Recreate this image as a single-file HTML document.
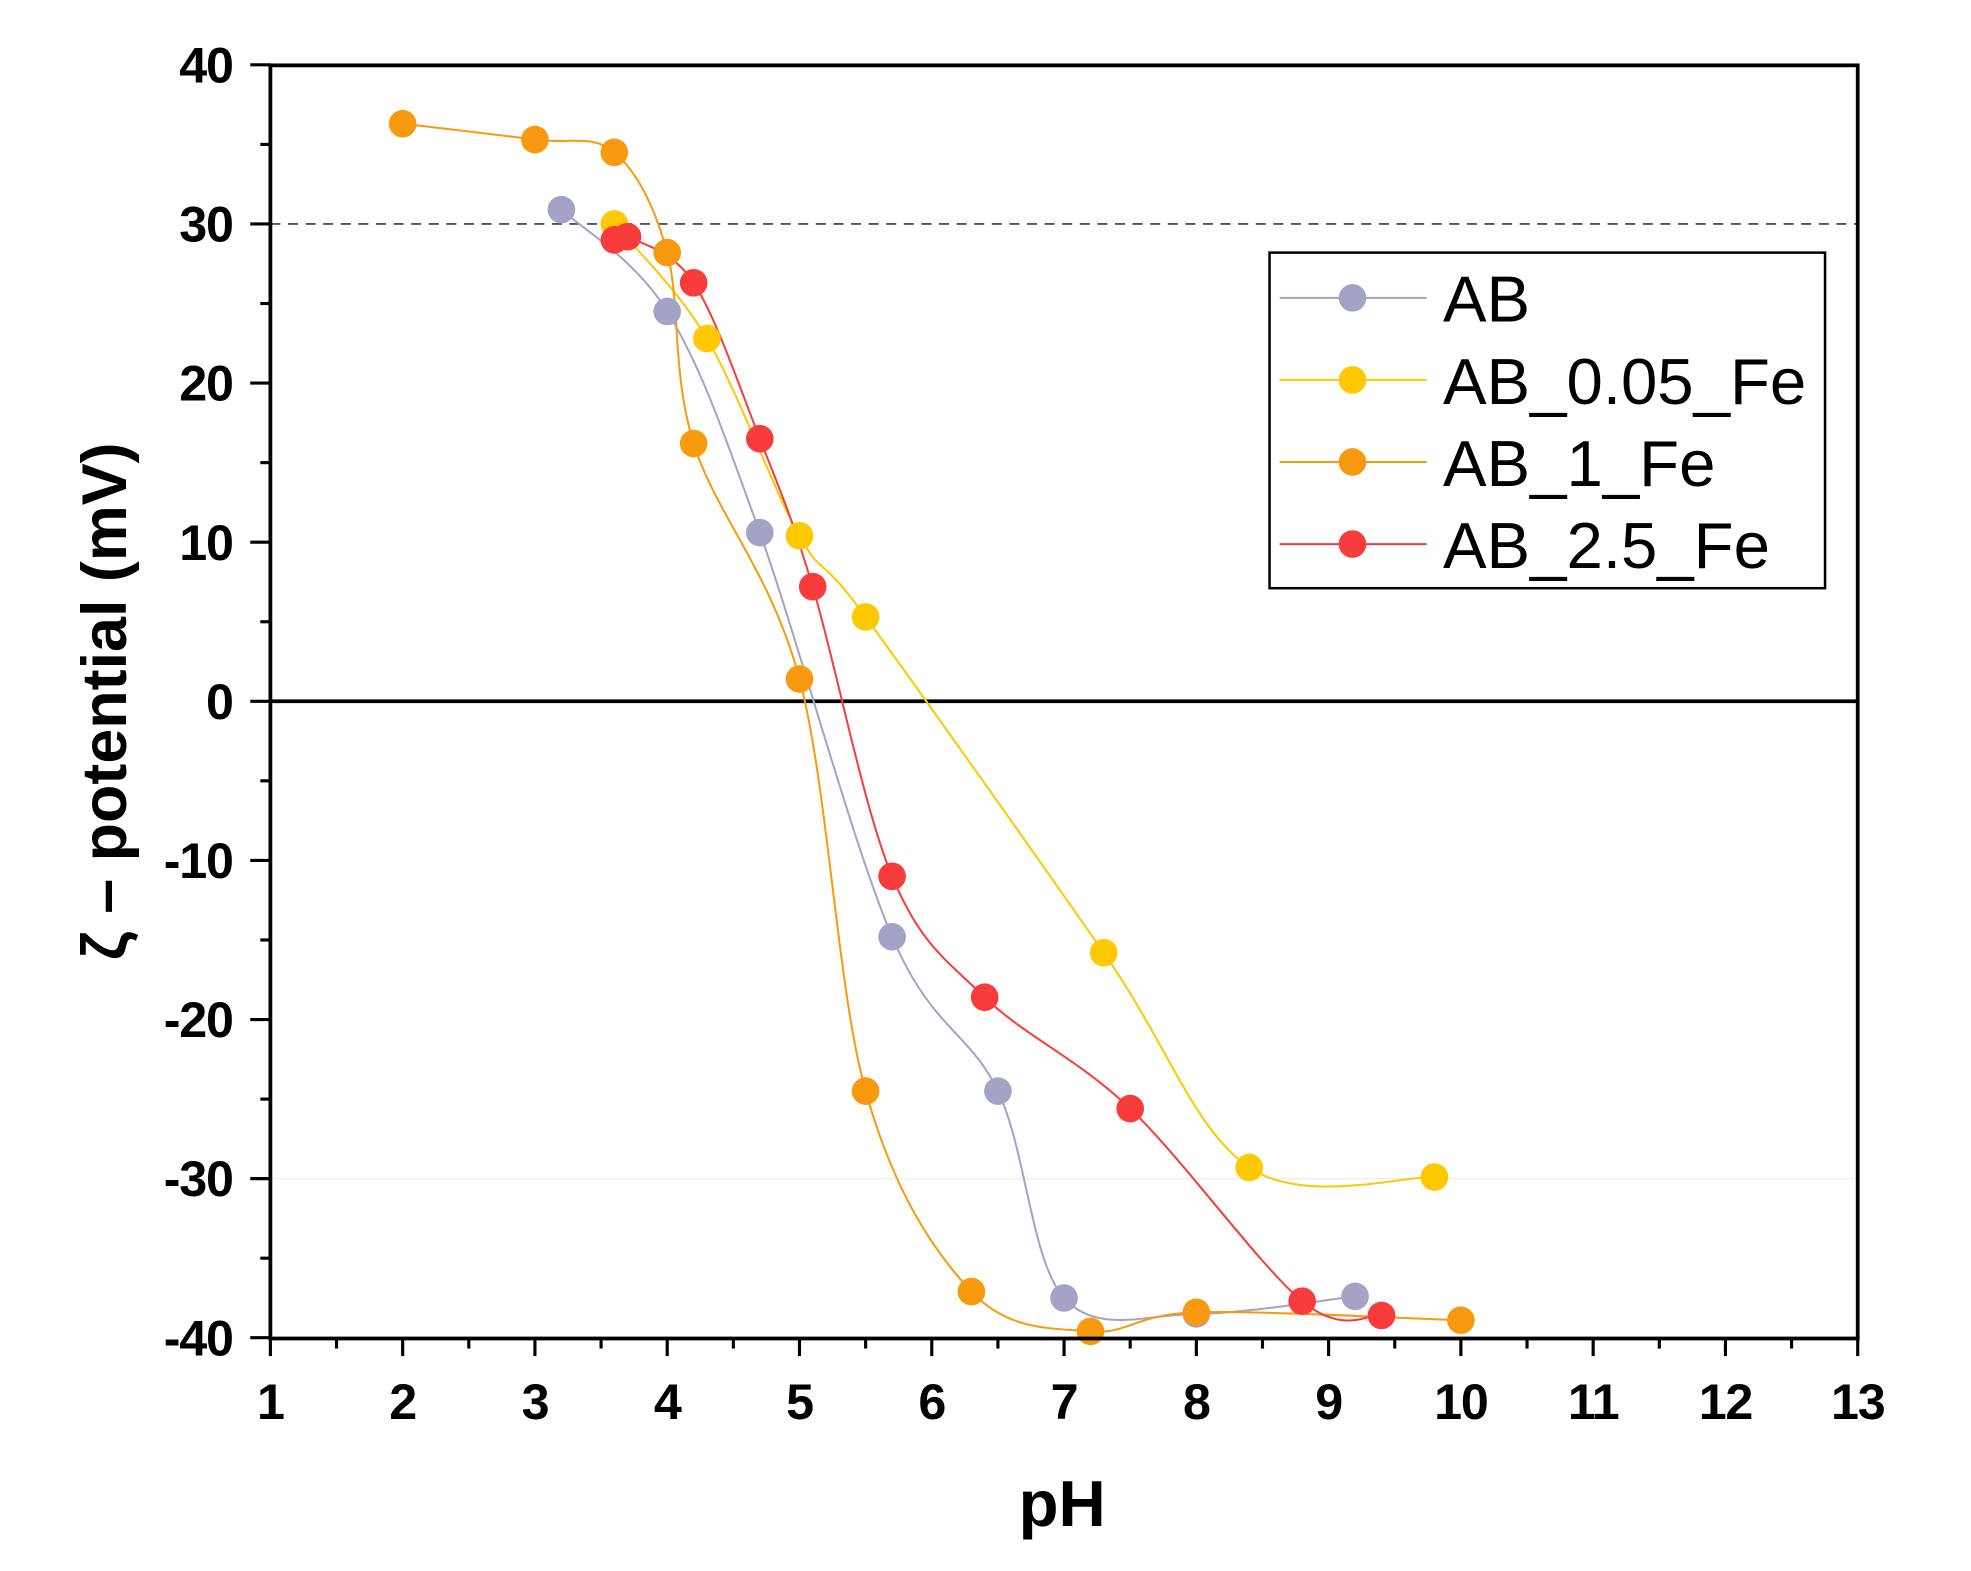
<!DOCTYPE html>
<html><head><meta charset="utf-8"><style>
html,body{margin:0;padding:0;background:#fff;}
svg{display:block;}
text{font-family:"Liberation Sans",Arial,sans-serif;}
</style></head><body>
<svg id="s" width="1971" height="1571" viewBox="0 0 1568 1250" xmlns="http://www.w3.org/2000/svg">
<rect width="1568" height="1250" fill="#fff"/>
<g id="g"></g>
<text x="845" y="1214" font-size="52" font-weight="bold" text-anchor="middle">pH</text>
<text transform="translate(100,558) rotate(-90)" font-size="50" font-weight="bold" text-anchor="middle">ζ – potential (mV)</text>
<rect x="1010" y="201" width="442" height="267" fill="#fff" stroke="#000" stroke-width="2"/>
<g id="leg"></g>
</svg>
<script>
const NS="http://www.w3.org/2000/svg";
const g=document.getElementById('g'), leg=document.getElementById('leg');
function el(p,tag,a,txt){const e=document.createElementNS(NS,tag);for(const k in a)e.setAttribute(k,a[k]);if(txt!=null)e.textContent=txt;p.appendChild(e);return e;}
const X=p=>215+(p-1)*105.25, Y=v=>558-v*12.66;
const L=215,R=1478,T=52,B=1065;
el(g,'line',{x1:L,x2:R,y1:Y(30),y2:Y(30),stroke:'#555','stroke-width':1.5,'stroke-dasharray':'8,6'});
el(g,'line',{x1:L,x2:R,y1:Y(-30),y2:Y(-30),stroke:'#eee','stroke-width':1});
el(g,'line',{x1:L,x2:R,y1:Y(0),y2:Y(0),stroke:'#000','stroke-width':3});
const S=[
 {c:'#a5a3c5',d:[[3.2,30.9],[4,24.5],[4.7,10.6],[5.7,-14.8],[6.5,-24.5],[7,-37.5],[8,-38.5],[9.2,-37.4]],n:'AB'},
 {c:'#ffc800',d:[[3.6,30],[4.3,22.8],[5,10.4],[5.5,5.3],[7.3,-15.8],[8.4,-29.3],[9.8,-29.9]],n:'AB_0.05_Fe'},
 {c:'#f89a10',d:[[2,36.3],[3,35.3],[3.6,34.5],[4,28.2],[4.2,16.2],[5,1.4],[5.5,-24.5],[6.3,-37.1],[7.2,-39.6],[8,-38.4],[10,-38.9]],n:'AB_1_Fe'},
 {c:'#f83c3c',d:[[3.6,29],[3.7,29.2],[4.2,26.3],[4.7,16.5],[5.1,7.2],[5.7,-11],[6.4,-18.6],[7.5,-25.6],[8.8,-37.7],[9.4,-38.6]],n:'AB_2.5_Fe'}];
function path(pts){const P=pts.map(p=>[X(p[0]),Y(p[1])]);let d='M'+P[0][0]+','+P[0][1];
 for(let i=0;i<P.length-1;i++){const p0=P[Math.max(0,i-1)],p1=P[i],p2=P[i+1],p3=P[Math.min(P.length-1,i+2)];
 const t=6;d+=' C'+(p1[0]+(p2[0]-p0[0])/t)+','+(p1[1]+(p2[1]-p0[1])/t)+' '+(p2[0]-(p3[0]-p1[0])/t)+','+(p2[1]-(p3[1]-p1[1])/t)+' '+p2[0]+','+p2[1];}
 return d;}
S.forEach(s=>el(g,'path',{d:path(s.d),fill:'none',stroke:s.c,'stroke-width':1.6}));
S.forEach(s=>s.d.forEach(p=>el(g,'circle',{cx:X(p[0]),cy:Y(p[1]),r:11,fill:s.c})));
el(g,'rect',{x:L,y:T,width:R-L,height:B-T,fill:'none',stroke:'#000','stroke-width':3});
for(let p=1;p<=13;p+=0.5){const maj=Number.isInteger(p);el(g,'line',{x1:X(p),x2:X(p),y1:B,y2:B+(maj?14:8),stroke:'#000','stroke-width':2.5});
 if(maj)el(g,'text',{x:X(p),y:B+64,'font-size':40,'font-weight':'bold','text-anchor':'middle','letter-spacing':'-1'},p);}
for(let v=-40;v<=40;v+=5){const maj=v%10==0;el(g,'line',{x1:L,x2:L-(maj?16:8),y1:Y(v),y2:Y(v),stroke:'#000','stroke-width':2.5});
 if(maj)el(g,'text',{x:L-30,y:Y(v)+14,'font-size':40,'font-weight':'bold','text-anchor':'end','letter-spacing':'-1'},v);}
S.forEach((s,i)=>{const y=237+i*65.3;el(leg,'line',{x1:1018,x2:1135,y1:y,y2:y,stroke:s.c,'stroke-width':1.6});
 el(leg,'circle',{cx:1076,cy:y,r:11,fill:s.c});el(leg,'text',{x:1148,y:y+19,'font-size':52},s.n);});
</script>
</body></html>
